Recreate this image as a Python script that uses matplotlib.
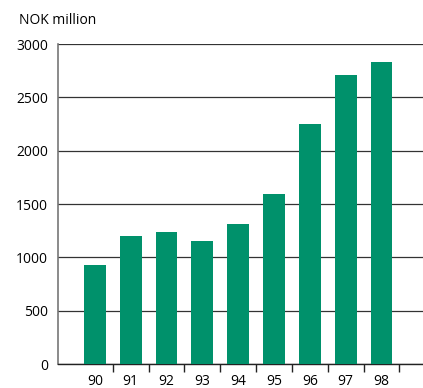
import numpy as np
import matplotlib.pyplot as plt

# 年份和数值 (NOK million)
years = ['90', '91', '92', '93', '94', '95', '96', '97', '98']
values = [930, 1200, 1235, 1150, 1310, 1590, 2250, 2710, 2835]
y_ticks = [0, 500, 1000, 1500, 2000, 2500, 3000]

plt.rcParams['font.family'] = ['Open Sans', 'DejaVu Sans']

fig = plt.figure(figsize=(4.23, 3.88), dpi=100)
ax = fig.add_axes([58 / 423, (388 - 364) / 388, (423 - 58) / 423, 320 / 388])

x = np.arange(len(years))
ax.bar(x, values, width=0.61, color='#00916b', zorder=3)

# 网格线
ax.set_yticks(y_ticks)
ax.set_ylim(0, 3000)
ax.yaxis.grid(True, color='#333333', linewidth=0.9, zorder=1)
ax.tick_params(axis='y', length=0, pad=7, labelsize=10)

ax.set_xlim(-1.03, 9.16)
ax.set_xticks(x)
ax.set_xticklabels(years)
ax.set_xticks(x + 0.5, minor=True)
ax.tick_params(axis='x', which='major', length=0, pad=7, labelsize=10)
ax.tick_params(axis='x', which='minor', length=6, width=1, color='#222222', direction='out')

for s in ['top', 'right']:
    ax.spines[s].set_visible(False)
ax.spines['left'].set_color('#777777')
ax.spines['left'].set_linewidth(1.2)
ax.spines['bottom'].set_color('#222222')
ax.spines['bottom'].set_linewidth(1.0)

fig.text(19 / 423, 1 - 20 / 388, 'NOK million', fontsize=10, va='center', ha='left')

fig.savefig('out.png', dpi=100)
